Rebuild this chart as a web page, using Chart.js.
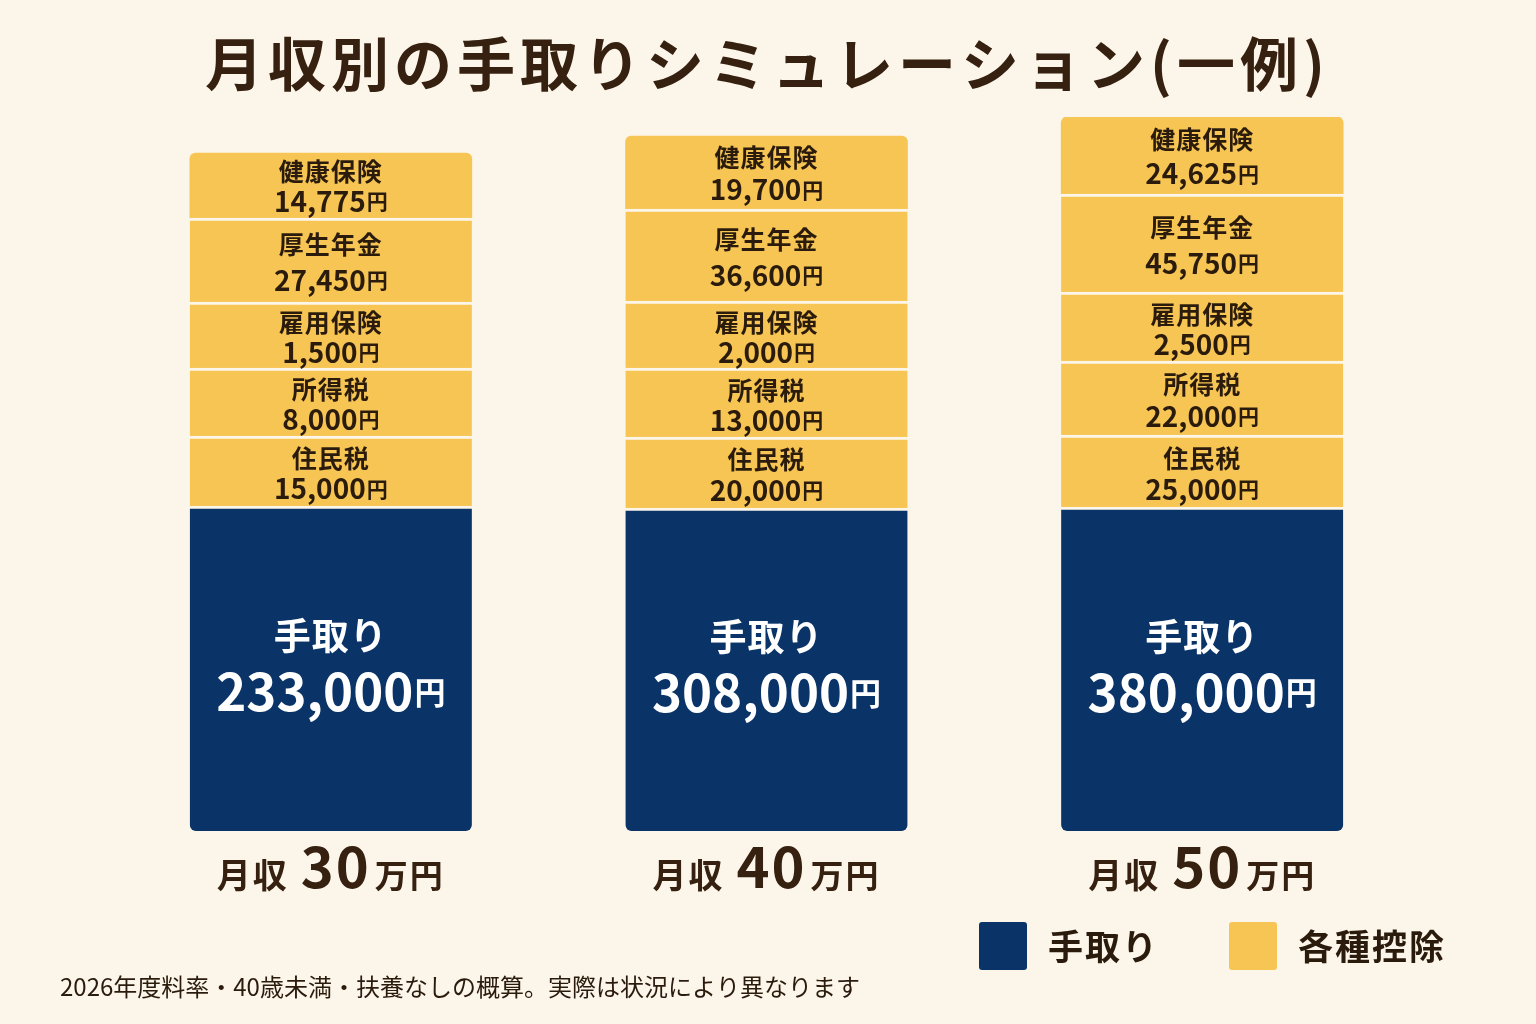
<!DOCTYPE html>
<html lang="ja">
<head>
<meta charset="UTF-8">
<title>月収別の手取りシミュレーション</title>
<style>
    body {
        margin: 0;
        padding: 0;
        background-color: #fcf6ea;
    }
    #wrap {
        width: 1536px;
        height: 1024px;
        position: relative;
    }
</style>
<script src="https://cdn.jsdelivr.net/npm/chart.js"></script>
</head>
<body>
<div id="wrap">
    <canvas id="takeHomeChart"></canvas>
</div>

<script>
// 月収（万円）
const incomes = ['30', '40', '50'];
const deductionNames = ['住民税', '所得税', '雇用保険', '厚生年金', '健康保険'];

// 金額（円）
const takeHome = [233000, 308000, 380000];
const residentTax = [15000, 20000, 25000];
const incomeTax = [8000, 13000, 22000];
const employmentIns = [1500, 2000, 2500];
const pension = [27450, 36600, 45750];
const healthIns = [14775, 19700, 24625];

// the picture is not drawn to scale: block heights
const takeHomeBlock = [325, 323, 324];
const residentBlock = [70, 71, 72];
const incomeTaxBlock = [68, 69, 74];
const employmentBlock = [66, 67, 69];
const pensionBlock = [84, 92, 98];
const healthBlock = [65, 73, 77];

const bgColor = '#fcf6ea';
const navy = '#0a3468';
const yellow = '#f6c553';
const brown = '#36200f';
const darkText = '#2a1b0c';
const FONT = '"Noto Sans CJK JP", "Noto Sans", sans-serif';

const yen = v => v.toLocaleString('en-US');

const deductionValues = [residentTax, incomeTax, employmentIns, pension, healthIns];
const deductionBlocks = [residentBlock, incomeTaxBlock, employmentBlock, pensionBlock, healthBlock];

const datasets = [{
    label: '手取り',
    data: takeHomeBlock,
    amounts: takeHome,
    backgroundColor: navy,
    borderColor: bgColor,
    borderWidth: { top: 3, left: 0, right: 0, bottom: 0 },
    borderRadius: { topLeft: 0, topRight: 0, bottomLeft: 6, bottomRight: 6 },
    borderSkipped: false
}];
deductionNames.forEach((name, i) => {
    const isTop = i === deductionNames.length - 1;
    datasets.push({
        label: name,
        data: deductionBlocks[i],
        amounts: deductionValues[i],
        backgroundColor: yellow,
        borderColor: bgColor,
        borderWidth: isTop ? 0 : { top: 3, left: 0, right: 0, bottom: 0 },
        borderRadius: isTop ? { topLeft: 6, topRight: 6, bottomLeft: 0, bottomRight: 0 } : 0,
        borderSkipped: false
    });
});

// draw mixed size text pieces centred on x
function drawPieces(ctx, pieces, cx, y) {
    let total = 0;
    pieces.forEach(p => {
        ctx.font = p.font;
        p.w = ctx.measureText(p.text).width;
        total += p.w + (p.gap || 0);
    });
    let x = cx - total / 2;
    ctx.textAlign = 'left';
    pieces.forEach(p => {
        ctx.font = p.font;
        ctx.fillStyle = p.color;
        ctx.fillText(p.text, x, y);
        x += p.w + (p.gap || 0);
    });
}

const labelPlugin = {
    id: 'labels',
    afterDraw(chart) {
        const ctx = chart.ctx;
        ctx.save();

        // title
        ctx.font = 'bold 58px ' + FONT;
        ctx.letterSpacing = '5px';
        ctx.fillStyle = brown;
        ctx.textAlign = 'left';
        ctx.textBaseline = 'middle';
        ctx.fillText('月収別の手取りシミュレーション(一例)', 205, 64);
        ctx.letterSpacing = '0px';

        // labels in the blocks
        chart.data.datasets.forEach((ds, di) => {
            const meta = chart.getDatasetMeta(di);
            meta.data.forEach((bar, i) => {
                const top = bar.y + (di === datasets.length - 1 ? 0 : 3);
                const bottom = bar.base;
                const cy = (top + bottom) / 2;
                if (di === 0) {
                    ctx.textBaseline = 'middle';
                    ctx.textAlign = 'center';
                    ctx.fillStyle = '#ffffff';
                    ctx.font = 'bold 37px ' + FONT;
                    ctx.letterSpacing = '1px';
                    ctx.fillText(ds.label, bar.x, cy - 34);
                    ctx.letterSpacing = '0px';
                    drawPieces(ctx, [
                        { text: yen(ds.amounts[i]), font: 'bold 51px ' + FONT, color: '#ffffff', gap: 1 },
                        { text: '円', font: 'bold 31px ' + FONT, color: '#ffffff' }
                    ], bar.x, cy + 22);
                } else {
                    const h = bottom - top;
                    const gap = Math.max(28, Math.min(34, h * 0.42));
                    ctx.textBaseline = 'middle';
                    ctx.textAlign = 'center';
                    ctx.fillStyle = darkText;
                    ctx.font = 'bold 25px ' + FONT;
                    ctx.letterSpacing = '1px';
                    ctx.fillText(ds.label, bar.x, cy - gap / 2);
                    ctx.letterSpacing = '0px';
                    drawPieces(ctx, [
                        { text: yen(ds.amounts[i]), font: 'bold 28px ' + FONT, color: darkText, gap: 1 },
                        { text: '円', font: 'bold 21px ' + FONT, color: darkText }
                    ], bar.x, cy + gap / 2 + 2);
                }
            });
        });

        // x labels: 月収 xx万円
        const xs = chart.scales.x;
        ctx.textBaseline = 'alphabetic';
        incomes.forEach((inc, i) => {
            const cx = xs.getPixelForValue(i);
            ctx.letterSpacing = '2px';
            drawPieces(ctx, [
                { text: '月収', font: 'bold 34px ' + FONT, color: brown, gap: 12 },
                { text: inc, font: 'bold 56px ' + FONT, color: brown, gap: 4 },
                { text: '万円', font: 'bold 33px ' + FONT, color: brown }
            ], cx, 888);
            ctx.letterSpacing = '0px';
        });

        // legend
        const legendItems = [
            { label: '手取り', color: navy, x: 979 },
            { label: '各種控除', color: yellow, x: 1229 }
        ];
        legendItems.forEach(item => {
            ctx.fillStyle = item.color;
            ctx.beginPath();
            ctx.roundRect(item.x, 922, 48, 48, 3);
            ctx.fill();
            ctx.font = 'bold 35px ' + FONT;
            ctx.letterSpacing = '2px';
            ctx.fillStyle = darkText;
            ctx.textAlign = 'left';
            ctx.textBaseline = 'middle';
            ctx.fillText(item.label, item.x + 69, 947);
            ctx.letterSpacing = '0px';
        });

        // footnote
        ctx.font = '24px ' + FONT;
        ctx.fillStyle = darkText;
        ctx.textAlign = 'left';
        ctx.textBaseline = 'middle';
        ctx.fillText('2026年度料率・40歳未満・扶養なしの概算。実際は状況により異なります', 60, 987);

        ctx.restore();
    }
};

const ctx = document.getElementById('takeHomeChart').getContext('2d');
const takeHomeChart = new Chart(ctx, {
    type: 'bar',
    data: {
        labels: incomes,
        datasets: datasets
    },
    options: {
        responsive: true,
        maintainAspectRatio: false,
        animation: false,
        layout: {
            padding: { top: 117, bottom: 193, left: 113, right: 116 }
        },
        datasets: {
            bar: { barThickness: 282 }
        },
        plugins: {
            legend: { display: false },
            tooltip: { enabled: false },
            title: { display: false }
        },
        scales: {
            x: {
                stacked: true,
                display: false
            },
            y: {
                stacked: true,
                display: false,
                min: 0,
                max: 714
            }
        }
    },
    plugins: [labelPlugin]
});
</script>
</body>
</html>
